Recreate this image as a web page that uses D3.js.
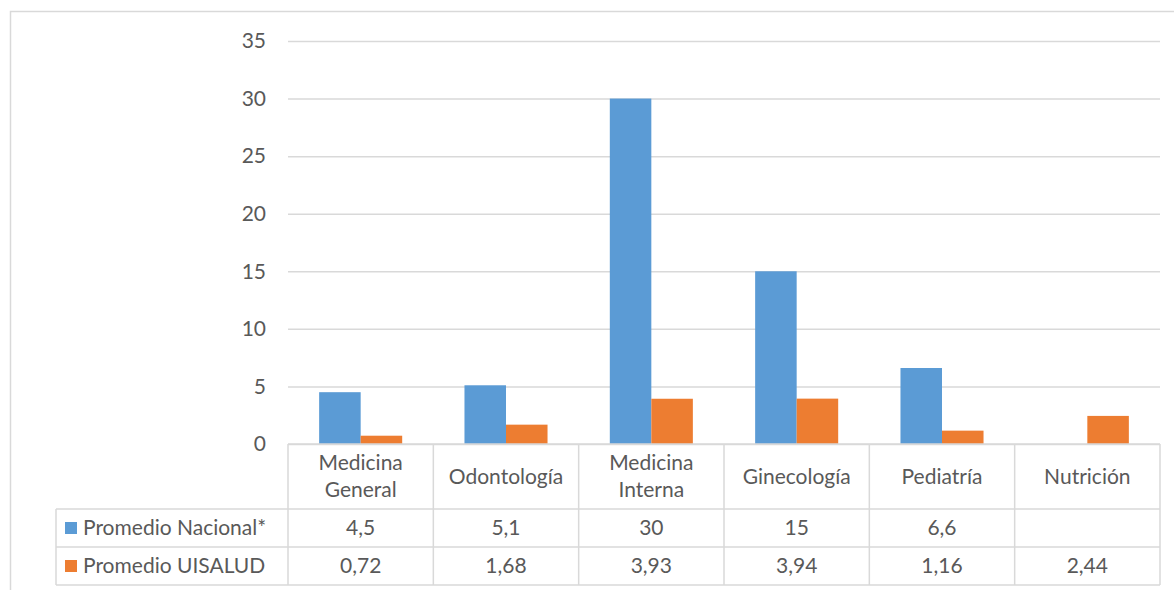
<!DOCTYPE html>
<html>
<head>
<meta charset="utf-8">
<script src="https://cdn.jsdelivr.net/npm/d3@7"></script>
<style>
  html, body { margin: 0; padding: 0; background: #fff; }
  svg { display: block; }
  text { font-family: Lato, "Open Sans", sans-serif; fill: #595959; }
</style>
</head>
<body>
<svg id="chart" width="1174" height="590"></svg>
<script>
// Specialties (header of the data table); "\n" splits a label over two lines
const categories = ["Medicina\nGeneral", "Odontología", "Medicina\nInterna", "Ginecología", "Pediatría", "Nutrición"];
const seriesNames = ["Promedio Nacional*", "Promedio UISALUD"];
const nacional = [4.5, 5.1, 30, 15, 6.6, null];
const uisalud = [0.72, 1.68, 3.93, 3.94, 1.16, 2.44];
const nacionalLabels = ["4,5", "5,1", "30", "15", "6,6", ""];
const uisaludLabels = ["0,72", "1,68", "3,93", "3,94", "1,16", "2,44"];
const yTicks = [0, 5, 10, 15, 20, 25, 30, 35];
const colors = ["#5b9bd5", "#ed7d31"];

const FS = 21;
const svg = d3.select("#chart");
const grid = "#d9d9d9";

// Chart frame
svg.append("rect")
  .attr("x", 10.5).attr("y", 11.5)
  .attr("width", 1200).attr("height", 600)
  .attr("fill", "none").attr("stroke", grid).attr("stroke-width", 1.5);

const plotLeft = 288, plotRight = 1160, plotTop = 41, plotBottom = 444;

const x = d3.scaleBand().domain(d3.range(categories.length))
  .range([plotLeft, plotRight]).paddingInner(0).paddingOuter(0);
const y = d3.scaleLinear().domain([0, 35]).range([plotBottom, plotTop]);

// Gridlines and y-axis labels
const yAxis = d3.axisLeft(y).tickValues(yTicks).tickSize(-(plotRight - plotLeft)).tickPadding(22).tickFormat(d3.format("d"));
const gy = svg.append("g").attr("transform", `translate(${plotLeft},0)`).call(yAxis);
gy.select(".domain").remove();
gy.selectAll(".tick line").attr("stroke", grid).attr("stroke-width", 1.5);
gy.selectAll(".tick text").attr("font-size", FS).attr("fill", "#595959")
  .style("font-family", "Lato, 'Open Sans', sans-serif");

// Bars: gap width 150% of a bar, two bars per category
const groupW = x.bandwidth();
const barW = groupW / 3.5;
const series = [nacional, uisalud];
series.forEach((vals, si) => {
  svg.append("g").selectAll("rect")
    .data(vals.map((v, i) => ({ v, i })).filter(d => d.v != null))
    .join("rect")
    .attr("x", d => x(d.i) + groupW / 2 - barW + si * barW)
    .attr("y", d => y(d.v))
    .attr("width", barW)
    .attr("height", d => y(0) - y(d.v))
    .attr("fill", colors[si]);
});

// Data table
const tableLeft = 56;
const rowTops = [444, 509, 547, 585];
const table = svg.append("g").attr("fill", "none").attr("stroke", grid).attr("stroke-width", 1.5);

// horizontal lines
table.append("line").attr("x1", plotLeft).attr("x2", plotRight).attr("y1", rowTops[0]).attr("y2", rowTops[0]);
[1, 2, 3].forEach(r => {
  table.append("line").attr("x1", tableLeft).attr("x2", plotRight).attr("y1", rowTops[r]).attr("y2", rowTops[r]);
});
// vertical lines
d3.range(categories.length + 1).forEach(i => {
  const xx = i < categories.length ? x(i) : plotRight;
  table.append("line").attr("x1", xx).attr("x2", xx).attr("y1", rowTops[0]).attr("y2", rowTops[3]);
});
table.append("line").attr("x1", tableLeft).attr("x2", tableLeft).attr("y1", rowTops[1]).attr("y2", rowTops[3]);

// Header row: category names
categories.forEach((c, i) => {
  const lines = c.split("\n");
  const cy = (rowTops[0] + rowTops[1]) / 2;
  const lh = 27;
  const t = svg.append("text")
    .attr("text-anchor", "middle")
    .attr("font-size", FS);
  lines.forEach((ln, k) => {
    t.append("tspan")
      .attr("x", x(i) + groupW / 2)
      .attr("y", cy + (k - (lines.length - 1) / 2) * lh)
      .attr("dy", "0.35em")
      .text(ln);
  });
});

// Series rows with legend keys
const rowLabels = [nacionalLabels, uisaludLabels];
rowLabels.forEach((labels, r) => {
  const cy = (rowTops[r + 1] + rowTops[r + 2]) / 2;
  svg.append("rect")
    .attr("x", 65).attr("y", cy - 6).attr("width", 12).attr("height", 12)
    .attr("fill", colors[r]);
  svg.append("text")
    .attr("x", 83).attr("y", cy).attr("dy", "0.35em")
    .attr("font-size", FS).text(seriesNames[r]);
  labels.forEach((lab, i) => {
    svg.append("text")
      .attr("x", x(i) + groupW / 2).attr("y", cy).attr("dy", "0.35em")
      .attr("text-anchor", "middle").attr("font-size", FS).text(lab);
  });
});
</script>
</body>
</html>
